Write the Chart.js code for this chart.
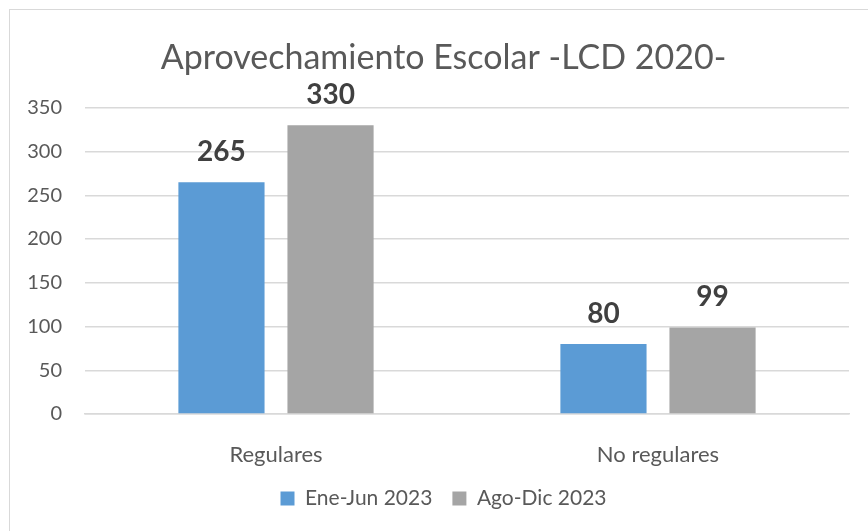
<!DOCTYPE html>
<html>
<head>
<meta charset="utf-8">
<script src="https://cdn.jsdelivr.net/npm/chart.js@4"></script>
<style>
  html, body { margin: 0; padding: 0; background: #ffffff; overflow: hidden; }
  #frame { position: absolute; left: 9px; top: 9px; width: 880px; height: 540px; border: 1px solid #d9d9d9; }
  #wrap { position: absolute; left: 0; top: 0; width: 868px; height: 531px; }
</style>
</head>
<body>
<div id="frame"></div>
<div id="wrap"><canvas id="chart"></canvas></div>
<script>
const categories = ['Regulares', 'No regulares'];
const eneJun = [265, 80];
const agoDic = [330, 99];
const seriesNames = ['Ene-Jun 2023', 'Ago-Dic 2023'];

const FONT = 'Lato, "Open Sans", sans-serif';

// numbers above each bar
const valueLabels = {
  id: 'valueLabels',
  afterDatasetsDraw(chart) {
    const ctx = chart.ctx;
    ctx.save();
    ctx.font = 'bold 28px ' + FONT;
    ctx.fillStyle = '#404040';
    ctx.textAlign = 'center';
    ctx.textBaseline = 'middle';
    chart.data.datasets.forEach((ds, i) => {
      chart.getDatasetMeta(i).data.forEach((bar, j) => {
        ctx.fillText(ds.data[j], bar.x, bar.y - 30);
      });
    });
    ctx.restore();
  }
};

new Chart(document.getElementById('chart'), {
  type: 'bar',
  data: {
    labels: categories,
    datasets: [{
      label: seriesNames[0],
      data: eneJun,
      backgroundColor: '#5b9bd5'
    }, {
      label: seriesNames[1],
      data: agoDic,
      backgroundColor: '#a5a5a5'
    }]
  },
  options: {
    responsive: true,
    maintainAspectRatio: false,
    animation: false,
    categoryPercentage: 0.571,
    barPercentage: 0.79,
    layout: { padding: { left: 38, right: 19, top: 0, bottom: 12 } },
    plugins: {
      title: {
        display: true,
        text: 'Aprovechamiento Escolar -LCD 2020-',
        color: '#595959',
        font: { family: FONT, size: 34, weight: 'normal' },
        padding: { top: 38, bottom: 29 }
      },
      legend: {
        position: 'bottom',
        labels: {
          color: '#595959',
          font: { family: FONT, size: 21 },
          boxWidth: 14,
          boxHeight: 14,
          padding: 20
        }
      },
      tooltip: { enabled: false }
    },
    scales: {
      x: {
        afterFit(scale) { scale.height = 54; },
        grid: { display: false },
        border: { color: '#d9d9d9', width: 1.5 },
        ticks: { color: '#595959', font: { family: FONT, size: 22 }, padding: 20 }
      },
      y: {
        min: 0,
        max: 350,
        afterFit(scale) {
          scale.width = 47;
          // let the tick labels spill into the left padding
          scale._computeLabelArea = () => undefined;
        },
        border: { display: false },
        grid: { color: '#d9d9d9', lineWidth: 1.5, drawTicks: false },
        ticks: { stepSize: 50, color: '#595959', font: { family: FONT, size: 20 }, padding: 23 }
      }
    }
  },
  plugins: [valueLabels]
});
</script>
</body>
</html>
